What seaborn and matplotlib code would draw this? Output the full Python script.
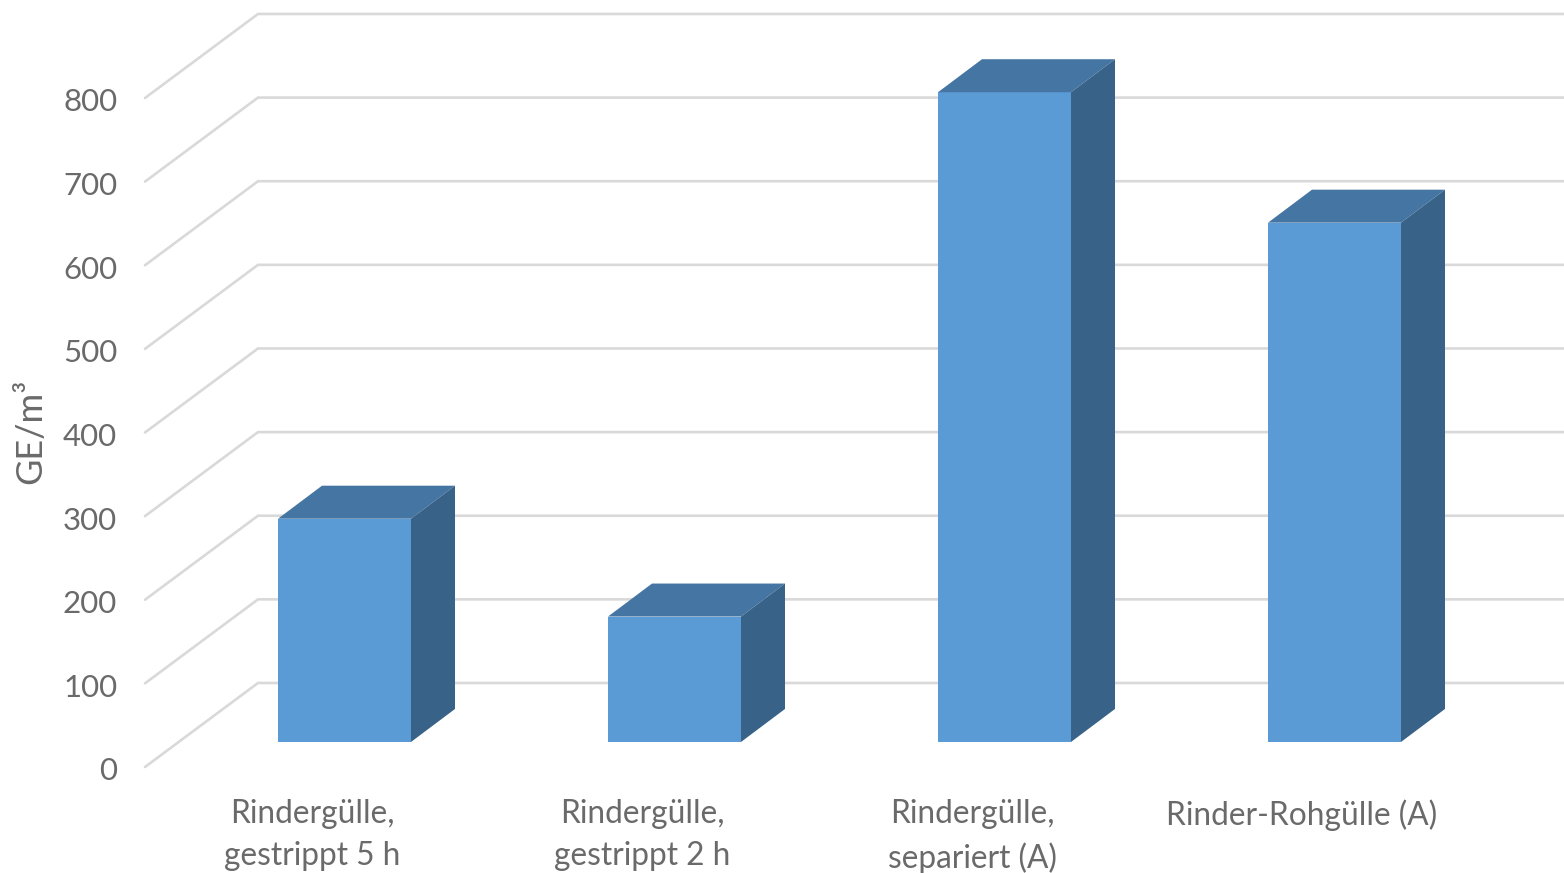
import numpy as np
import pandas as pd
import matplotlib
matplotlib.use("Agg")
import matplotlib.pyplot as plt
from matplotlib.patches import Polygon
from matplotlib.transforms import ScaledTranslation
import seaborn as sns

# Odour concentration per manure treatment
categories = ["Rindergülle,\ngestrippt 5 h", "Rindergülle,\ngestrippt 2 h",
              "Rindergülle,\nsepariert (A)", "Rinder-Rohgülle (A)"]
values = [267, 150, 777, 621]
y_ticks = [0, 100, 200, 300, 400, 500, 600, 700, 800]
y_label = "GE/m³"

FRONT = "#5B9BD5"
TOP = "#4575A3"
SIDE = "#386287"
GRID = "#D9D9D9"
TEXT = "#6A6A6A"

W, H = 1564, 873
PX_PER_CAT = 330.0
PX_PER_UNIT = 0.836

# Oblique projection: offsets expressed in data units
wall_dx, wall_dy = 113 / PX_PER_CAT, 84 / PX_PER_UNIT      # floor front edge to back wall
bar_dx, bar_dy = 44 / PX_PER_CAT, 33 / PX_PER_UNIT         # depth of one bar
bar_lift = 25 / PX_PER_UNIT                                 # bar base above the front edge
bar_shift = 32.5 / PX_PER_CAT                               # bar centre right of its label
bar_width = 133 / PX_PER_CAT

sns.set_theme(style="white")
plt.rcParams["font.family"] = ["Lato", "DejaVu Sans"]

fig = plt.figure(figsize=(W / 100, H / 100), dpi=100, facecolor="white")
ax = fig.add_axes([145 / W, (H - 767) / H, (1451 - 145) / W, (767 - 98) / H])

df = pd.DataFrame({"Kategorie": categories, "GE": values})
sns.barplot(data=df, x="Kategorie", y="GE", color=FRONT, saturation=1, width=bar_width,
            bottom=bar_lift, ax=ax, zorder=3)

ax.set_xlim(-(312 - 145) / PX_PER_CAT, (1451 - 312) / PX_PER_CAT)
ax.set_ylim(0, 800)
x0, x1 = ax.get_xlim()

# Back wall gridlines and the floor/side wall diagonals
for v in y_ticks:
    ax.plot([x0, x0 + wall_dx, x1 + wall_dx], [v, v + wall_dy, v + wall_dy],
            color=GRID, lw=1.9, clip_on=False, zorder=1, solid_joinstyle="miter")

# Extrude each bar into a box: top and right faces
for patch in ax.patches[:len(values)]:
    patch.set_x(patch.get_x() + bar_shift)
    patch.set_clip_on(False)
    patch.set_edgecolor("none")
    left, right = patch.get_x(), patch.get_x() + patch.get_width()
    base, top = patch.get_y(), patch.get_y() + patch.get_height()
    ax.add_patch(Polygon([(left, top), (right, top), (right + bar_dx, top + bar_dy),
                          (left + bar_dx, top + bar_dy)],
                         facecolor=TOP, edgecolor="none", clip_on=False, zorder=3))
    ax.add_patch(Polygon([(right, base), (right + bar_dx, base + bar_dy),
                          (right + bar_dx, top + bar_dy), (right, top)],
                         facecolor=SIDE, edgecolor="none", clip_on=False, zorder=3))

sns.despine(ax=ax, left=True, bottom=True)
ax.set_yticks(y_ticks)
ax.set_xlabel("")
ax.set_ylabel(y_label, fontsize=26, color=TEXT, labelpad=0)
ax.yaxis.set_label_coords((47 - 145) / (1451 - 145), (767 - 431) / (767 - 98))
ax.tick_params(axis="y", length=0, pad=20, labelsize=22.5, labelcolor=TEXT)
ax.tick_params(axis="x", length=0, pad=23, labelsize=22.8, labelcolor=TEXT)

# Nudge the value labels down onto the front edge of each grid level
nudge = ScaledTranslation(0, -2 / 100, fig.dpi_scale_trans)
for lab in ax.get_yticklabels():
    lab.set_transform(lab.get_transform() + nudge)
for lab in ax.get_xticklabels():
    lab.set_linespacing(1.52)
    lab.set_verticalalignment("top")

fig.savefig("out.png", dpi=100, facecolor="white")
